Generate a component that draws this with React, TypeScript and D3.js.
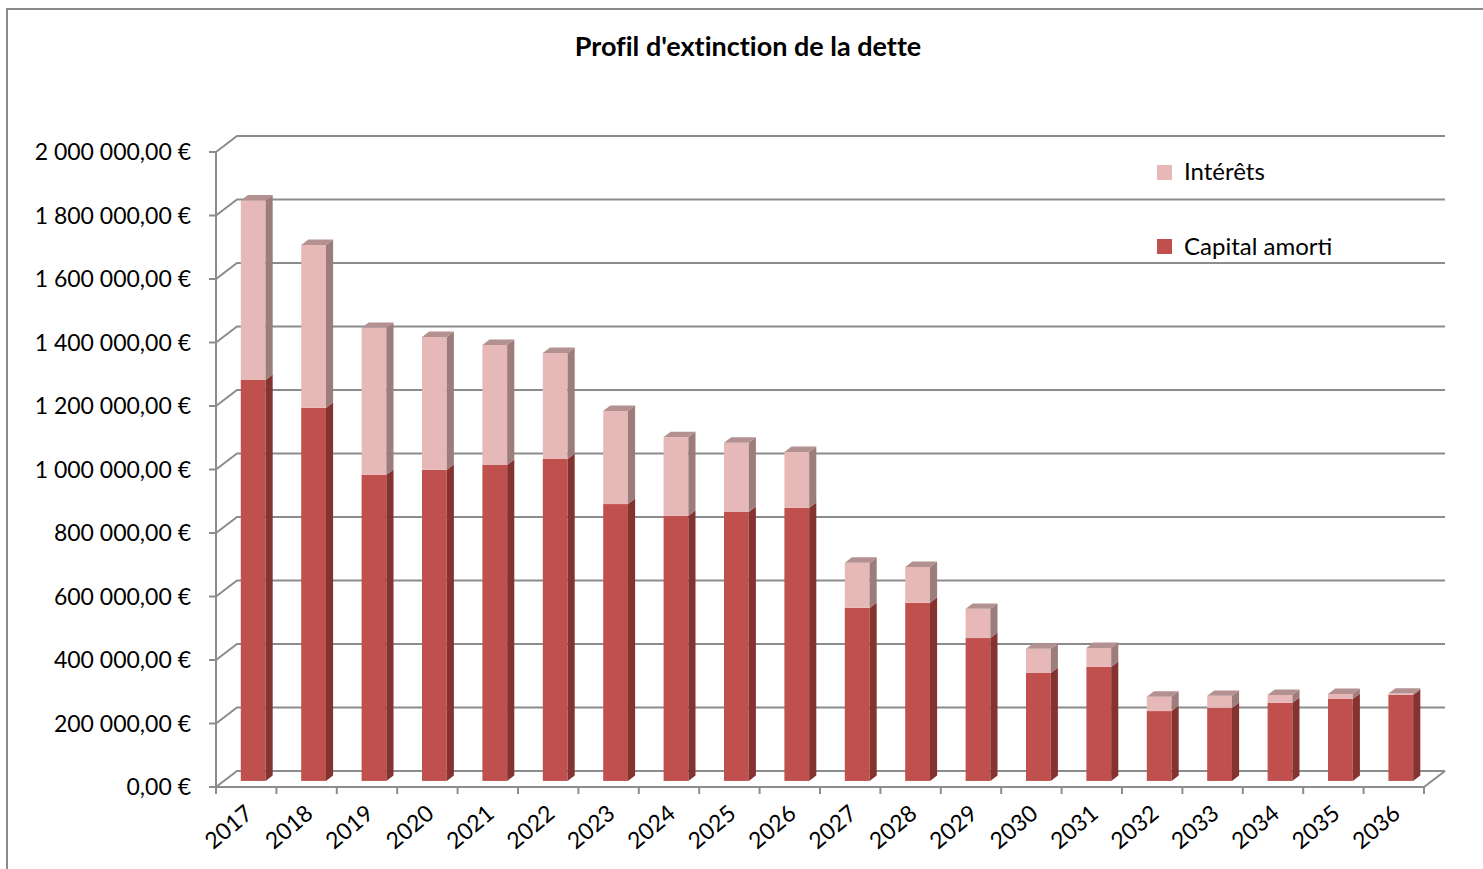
import React from 'react';
import * as d3 from 'd3';

const years = ['2017', '2018', '2019', '2020', '2021', '2022', '2023', '2024', '2025', '2026',
  '2027', '2028', '2029', '2030', '2031', '2032', '2033', '2034', '2035', '2036'];
const capital = [1263000, 1175000, 964000, 980000, 995000, 1014000, 872000, 835000, 847000, 860000,
  545000, 561000, 450000, 340000, 359000, 220000, 230000, 246000, 258000, 271000];
const interets = [565000, 513000, 463000, 418000, 378000, 334000, 293000, 248000, 218000, 176000,
  142000, 113000, 92000, 76000, 60000, 45000, 38000, 25000, 16000, 4000];
const yTicks = [0, 200000, 400000, 600000, 800000, 1000000, 1200000, 1400000, 1600000, 1800000, 2000000];

const W = 1483;
const H = 869;
const left = 216;
const right = 1424;
const DX = 21;
const DY = -16;
const f1 = 0.38;
const f2 = 0.72;

const font = 'Lato, "Open Sans", sans-serif';
const grid = '#8c8c8c';

const fmt = (v: number) => {
  const s = d3.format(',.2f')(v);
  return s.replace(/,/g, ' ').replace('.', ',') + ' €';
};

export default function App() {
  const y = d3.scaleLinear().domain([0, 2000000]).range([787, 152]);
  const x = d3.scaleBand().domain(years).range([left, right]);
  const bw = x.bandwidth();
  const barW = bw * 0.41;
  const offX = f1 * DX;
  const offY = f1 * DY;
  const sdx = (f2 - f1) * DX;
  const sdy = (f2 - f1) * DY;

  const segments = (i: number) => {
    const yr = years[i];
    const x0 = (x(yr) as number) + (bw - barW) / 2 + offX - 1;
    const x1 = x0 + barW;
    const parts = [
      { v0: 0, v1: capital[i], front: '#c0504d', side: '#843331', top: '#a84543' },
      { v0: capital[i], v1: capital[i] + interets[i], front: '#e6b9b8', side: '#9c7d7c', top: '#b39190' },
    ];
    return parts.map((p, k) => {
      const yt = y(p.v1) + offY;
      const yb = y(p.v0) + offY;
      return (
        <g key={k}>
          <rect x={x0} y={yt} width={barW} height={yb - yt} fill={p.front} />
          <polygon
            points={`${x1},${yt} ${x1 + sdx},${yt + sdy} ${x1 + sdx},${yb + sdy} ${x1},${yb}`}
            fill={p.side}
          />
          {k === 1 && (
            <polygon
              points={`${x0},${yt} ${x0 + sdx},${yt + sdy} ${x1 + sdx},${yt + sdy} ${x1},${yt}`}
              fill={p.top}
            />
          )}
        </g>
      );
    });
  };

  return (
    <svg width={W} height={H} style={{ position: 'absolute', left: 0, top: 0, background: '#fff' }}>
      <rect x={7} y={9} width={W + 10} height={H + 10} fill="#fff" stroke="#8a8a8a" strokeWidth={2} />
      <text x={748} y={56} textAnchor="middle" fontFamily={font} fontWeight="bold" fontSize={27} fill="#000"
        style={{ fontVariantLigatures: 'none' }}>
        Profil d'extinction de la dette
      </text>

      {/* gridlines on side and back wall */}
      {yTicks.map((t) => (
        <polyline
          key={t}
          points={`${left},${y(t)} ${left + DX},${y(t) + DY} ${right + DX},${y(t) + DY}`}
          fill="none"
          stroke={grid}
          strokeWidth={2}
        />
      ))}
      {/* floor */}
      <polyline
        points={`${left},${y(0)} ${right},${y(0)} ${right + DX},${y(0) + DY}`}
        fill="none"
        stroke={grid}
        strokeWidth={2}
      />
      <line x1={left} x2={left} y1={y(2000000)} y2={y(0)} stroke={grid} strokeWidth={2} />

      {yTicks.map((t) => (
        <g key={'yt' + t}>
          <line x1={left - 7} x2={left} y1={y(t)} y2={y(t)} stroke={grid} strokeWidth={2} />
          <text x={191} y={y(t) + 8} textAnchor="end" fontFamily={font} fontSize={23} fill="#000">
            {fmt(t)}
          </text>
        </g>
      ))}

      {[...years, 'end'].map((yr, i) => {
        const xt = i < years.length ? (x(yr) as number) : right;
        return <line key={'xt' + i} x1={xt} x2={xt} y1={y(0)} y2={y(0) + 7} stroke={grid} strokeWidth={2} />;
      })}

      {years.map((yr, i) => segments(i))}

      {years.map((yr) => {
        const cx = (x(yr) as number) + bw / 2 + 8;
        const cy = 816;
        return (
          <text
            key={'xl' + yr}
            x={cx}
            y={cy}
            textAnchor="end"
            transform={`rotate(-40 ${cx} ${cy})`}
            fontFamily={font}
            fontSize={23}
            fill="#000"
          >
            {yr}
          </text>
        );
      })}

      {/* legend */}
      <rect x={1157} y={165} width={15} height={15} fill="#e6b9b8" />
      <text x={1184} y={180} fontFamily={font} fontSize={24} fill="#000">Intérêts</text>
      <rect x={1157} y={239} width={15} height={15} fill="#c0504d" />
      <text x={1184} y={255} fontFamily={font} fontSize={24} fill="#000">Capital amorti</text>
    </svg>
  );
}
